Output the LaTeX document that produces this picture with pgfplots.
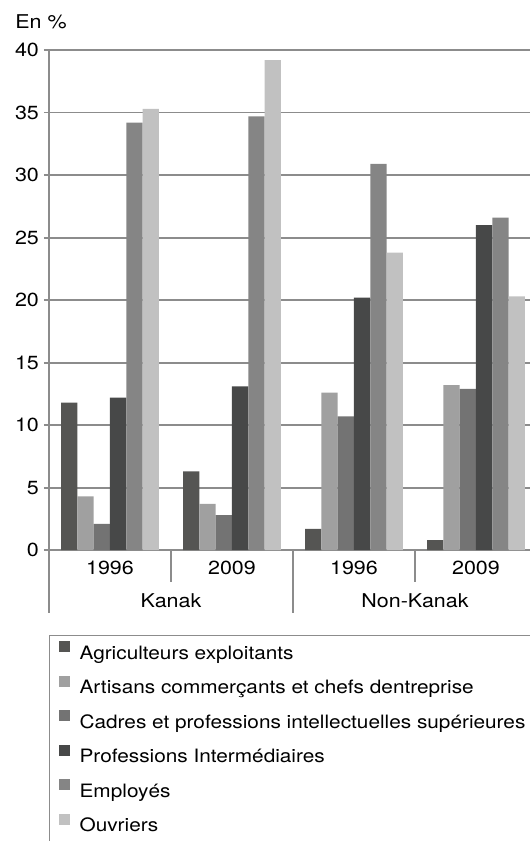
\documentclass[border=0pt]{standalone}
\usepackage{fontspec}
\setmainfont{TeX Gyre Heros}[FakeStretch=1.13]
\usepackage{pgfplots}
\pgfplotsset{compat=1.18}
\definecolor{cA}{HTML}{555553}
\definecolor{cB}{HTML}{A0A0A0}
\definecolor{cC}{HTML}{737373}
\definecolor{cD}{HTML}{474848}
\definecolor{cE}{HTML}{858585}
\definecolor{cF}{HTML}{C1C1C1}
\definecolor{axgray}{HTML}{8C8C8C}
\begin{document}
\begin{tikzpicture}
\useasboundingbox (-24.5pt,-145.4pt) rectangle (240.5pt,275.1pt);
\clip (-24.5pt,-145.4pt) rectangle (240.5pt,275.1pt);
\begin{axis}[
  scale only axis, width=244pt, height=250pt,
  at={(0pt,0pt)}, anchor=south west,
  xmin=-0.5, xmax=3.5, ymin=0, ymax=40,
  ybar=0pt, bar width=8.15pt,
  axis x line*=bottom, axis y line*=left,
  axis line style={draw=axgray, line width=0.8pt},
  ytick={0,5,...,40},
  ymajorgrids, grid style={draw=axgray, line width=0.8pt},
  tick align=outside, major tick length=2.5pt,
  ytick style={draw=axgray, line width=0.8pt},
  yticklabel style={xshift=1pt},
  xtick={0,1,2,3}, xticklabels={1996,2009,1996,2009},
  xtick style={draw=none},
  xticklabel style={yshift=0.8pt},
  ticklabel style={font=\fontsize{9.5}{11}\selectfont},
  /pgf/number format/assume math mode=true,
  clip=false,
  legend cell align=left,
  legend style={at={(rel axis cs:0,0)}, anchor=north west, xshift=0pt, yshift=-42.5pt,
    draw=axgray, line width=0.6pt, inner xsep=4.5pt, inner ysep=0pt, row sep=0pt,
    font=\fontsize{9.2}{11}\selectfont,
    nodes={inner sep=0pt, text height=11.6pt, text depth=5.65pt},
    /tikz/every odd column/.append style={column sep=5pt}},
  legend image code/.code={\fill[#1] (0pt,0.5pt) rectangle (5.5pt,6pt);},
]
\addplot[fill=cA, draw=none] coordinates {(0,11.8) (1,6.3) (2,1.7) (3,0.8)};
\addplot[fill=cB, draw=none] coordinates {(0,4.3) (1,3.7) (2,12.6) (3,13.2)};
\addplot[fill=cC, draw=none] coordinates {(0,2.1) (1,2.8) (2,10.7) (3,12.9)};
\addplot[fill=cD, draw=none] coordinates {(0,12.2) (1,13.1) (2,20.2) (3,26.0)};
\addplot[fill=cE, draw=none] coordinates {(0,34.2) (1,34.7) (2,30.9) (3,26.6)};
\addplot[fill=cF, draw=none] coordinates {(0,35.3) (1,39.2) (2,23.8) (3,20.3)};
\legend{Agriculteurs exploitants, Artisans commerçants et chefs dentreprise, Cadres et professions intellectuelles supérieures, Professions Intermédiaires, Employés, Ouvriers}
\draw[axgray, line width=0.8pt] (axis cs:-0.5,0) -- ++(0pt,-31.5pt);
\draw[axgray, line width=0.8pt] (axis cs:1.5,0) -- ++(0pt,-31.5pt);
\draw[axgray, line width=0.8pt] (axis cs:3.5,0) -- ++(0pt,-31.5pt);
\draw[axgray, line width=0.8pt] (axis cs:0.5,0) -- ++(0pt,-16pt);
\draw[axgray, line width=0.8pt] (axis cs:2.5,0) -- ++(0pt,-16pt);
\node[font=\fontsize{9.5}{11}\selectfont] at ([yshift=-25.5pt]axis cs:0.5,0) {Kanak};
\node[font=\fontsize{9.5}{11}\selectfont] at ([yshift=-25.5pt]axis cs:2.5,0) {Non-Kanak};
\end{axis}
\node[anchor=west, font=\fontsize{9.5}{11}\selectfont, inner sep=0pt] at (-17pt,264pt) {En \%};
\end{tikzpicture}
\end{document}
